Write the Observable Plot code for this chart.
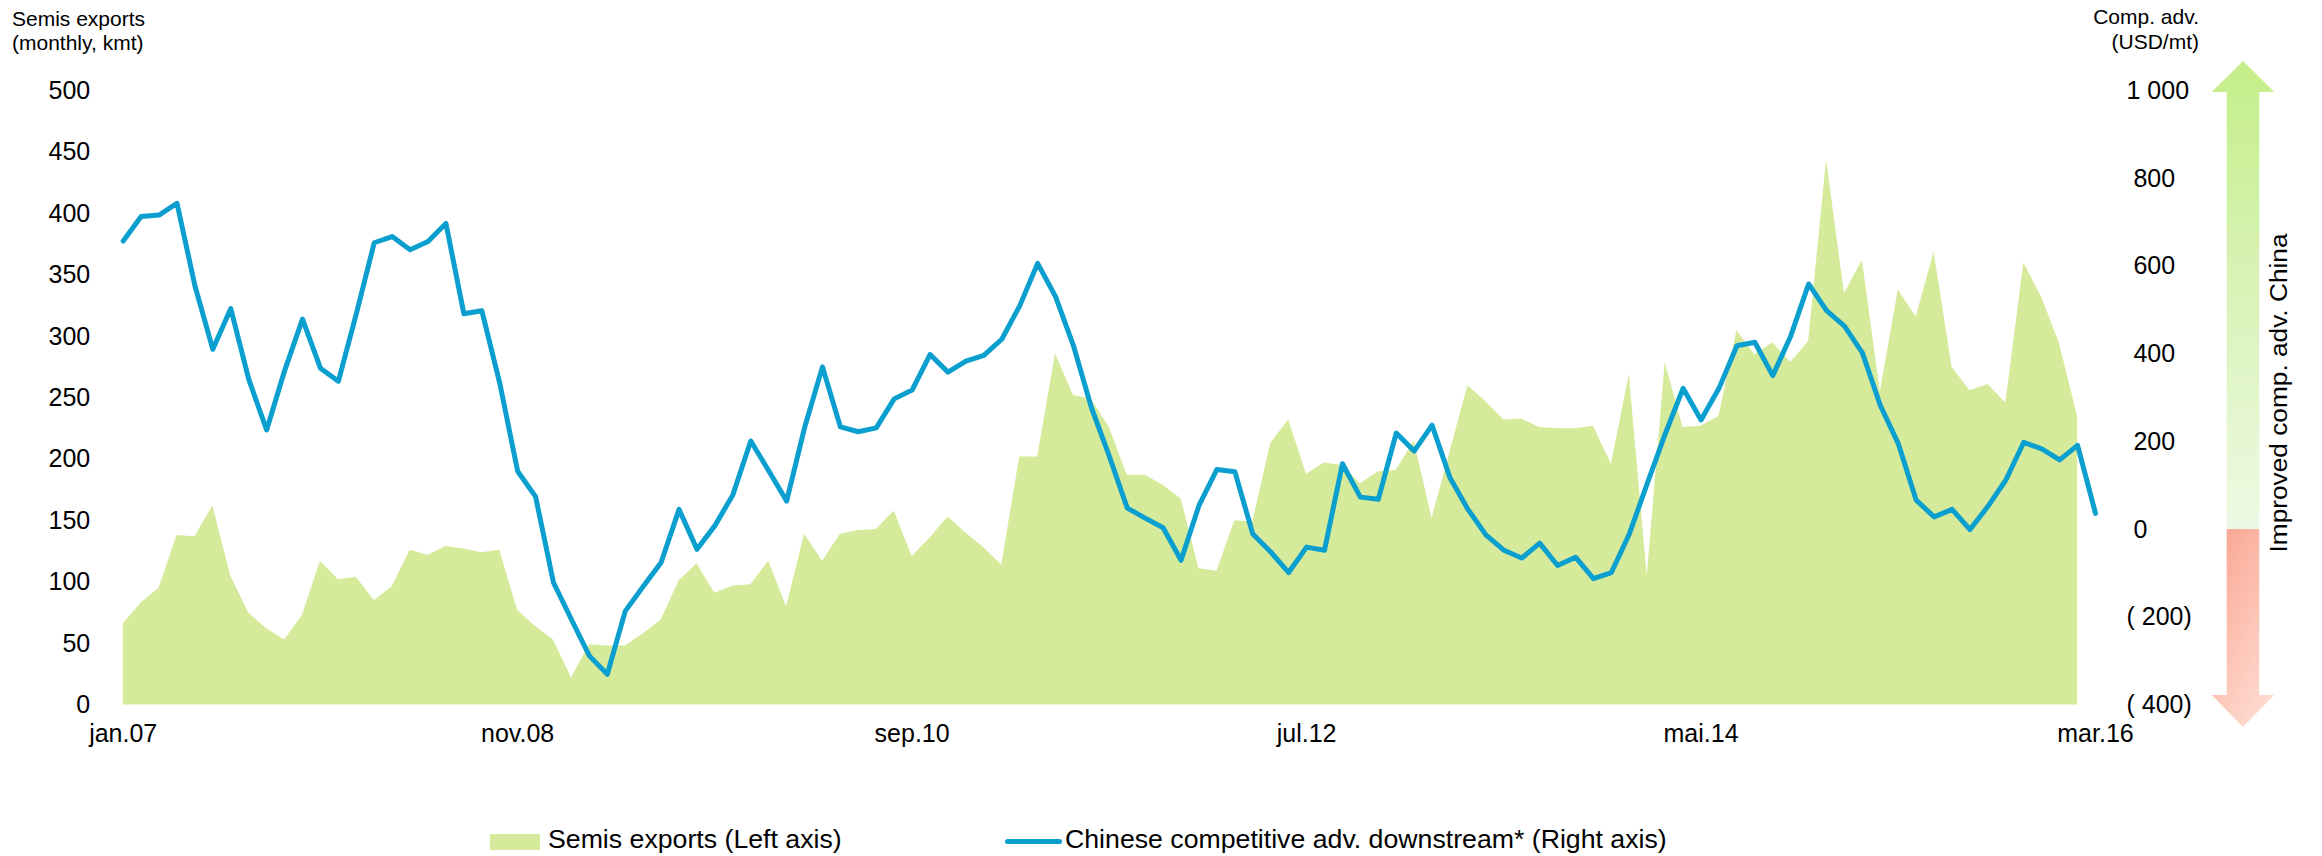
<!DOCTYPE html>
<html>
<head>
<meta charset="utf-8">
<script src="https://cdn.jsdelivr.net/npm/d3@7"></script>
<script src="https://cdn.jsdelivr.net/npm/@observablehq/plot@0.6"></script>
<style>
  body { margin: 0; background: #fff; font-family: "Liberation Sans", Arial, sans-serif; }
  #wrap { position: relative; width: 2322px; height: 856px; overflow: hidden; background: #fff; }
  .t { position: absolute; white-space: nowrap; color: #000; }
  #chart { position: absolute; left: 0; top: 60px; }
</style>
</head>
<body>
<div id="wrap">
  <div class="t" style="left:12px; top:7px; font-size:21px; line-height:24px;">Semis exports<br>(monthly, kmt)</div>
  <div class="t" style="right:123px; top:4px; font-size:21px; line-height:25px; text-align:right;">Comp. adv.<br>(USD/mt)</div>
  <div id="chart"></div>
  <div style="position:absolute; left:490px; top:834px; width:50px; height:16px; background:#d6ea9b;"></div>
  <div class="t" style="left:548px; top:824px; font-size:26.7px; line-height:30px;">Semis exports (Left axis)</div>
  <div style="position:absolute; left:1005px; top:839px; width:57px; height:5px; border-radius:3px; background:#0a9fcf;"></div>
  <div class="t" style="left:1065px; top:824px; font-size:26.7px; line-height:30px;">Chinese competitive adv. downstream* (Right axis)</div>
</div>
<script>
// Monthly semis exports, kmt (jan.07 .. feb.16) — left axis
const semisExports = [
  66, 83, 95, 138, 137, 162, 105, 75, 62, 53,
  73, 117, 102, 104, 85, 96, 126, 122, 129, 127,
  124, 126, 77, 64, 53, 22, 49, 48, 48, 58,
  69, 101, 115, 91, 97, 98, 117, 80, 139, 117,
  139, 142, 143, 158, 121, 136, 153, 140, 128, 114,
  202, 202, 286, 252, 249, 226, 187, 187, 179, 168,
  111, 109, 150, 149, 213, 232, 188, 197, 195, 180,
  190, 191, 215, 152, 206, 260, 247, 232, 233, 226,
  225, 225, 227, 196, 269, 105, 279, 226, 227, 235,
  305, 285, 295, 279, 296, 444, 335, 362, 255, 338,
  316, 369, 275, 256, 261, 246, 360, 332, 294, 235
];
// Chinese competitive advantage downstream, USD/mt (jan.07 .. mar.16) — right axis
const compAdv = [
  658, 714, 717, 744, 556, 411, 504, 343, 227, 362,
  480, 368, 338, 492, 654, 668, 638, 657, 698, 492,
  499, 334, 133, 75, -121, -205, -288, -330, -186, -130,
  -75, 46, -45, 9, 79, 202, 134, 65, 232, 371,
  234, 223, 232, 298, 318, 399, 359, 384, 397, 434,
  510, 607, 531, 419, 278, 167, 49, 26, 4, -70,
  55, 137, 132, -10, -51, -98, -40, -47, 150, 74,
  69, 220, 179, 238, 118, 46, -12, -47, -65, -31,
  -82, -63, -112, -98, -10, 105, 218, 322, 250, 322,
  419, 427, 351, 441, 560, 499, 464, 403, 283, 196,
  67, 29, 46, 0, 53, 113, 199, 184, 159, 192,
  37
];
const xTickIndex = [0, 22, 44, 66, 88, 110];
const xTickLabels = ["jan.07", "nov.08", "sep.10", "jul.12", "mai.14", "mar.16"];
const leftTicks = [0, 50, 100, 150, 200, 250, 300, 350, 400, 450, 500];
const rightTicks = [-400, -200, 0, 200, 400, 600, 800, 1000];
const rightTickLabels = ["(\u00a0400)", "(\u00a0200)", "\u00a00", "\u00a0200", "\u00a0400", "\u00a0600", "\u00a0800", "1\u00a0000"];
const leftDomain = [0, 500];
const rightDomain = [-400, 1000];

// map right-axis values onto the left-axis scale
const toLeft = r => leftDomain[0] + (r - rightDomain[0]) * (leftDomain[1] - leftDomain[0]) / (rightDomain[1] - rightDomain[0]);
const fromLeft = v => rightDomain[0] + (v - leftDomain[0]) * (rightDomain[1] - rightDomain[0]) / (leftDomain[1] - leftDomain[0]);

const chart = Plot.plot({
  width: 2322,
  height: 740,
  marginLeft: 122.7,
  marginRight: 227,
  marginTop: 30.5,
  marginBottom: 95.5,
  style: { fontFamily: "Liberation Sans, Arial, sans-serif", fontSize: "25px", color: "#000", background: "#fff", overflow: "visible" },
  x: { domain: [0, 110] },
  y: { domain: leftDomain },
  marks: [
    Plot.areaY(semisExports, { x: (d, i) => i, y: d => d, fill: "#d6ea9b" }),
    Plot.lineY(compAdv, { x: (d, i) => i, y: d => toLeft(d), stroke: "#0a9fcf", strokeWidth: 5, strokeLinejoin: "round", strokeLinecap: "round" }),
    Plot.axisY(leftTicks, { anchor: "left", tickSize: 0, tickPadding: 33, label: null }),
    Plot.axisY(rightTicks.map(toLeft), {
      anchor: "right", tickSize: 0, tickPadding: 31, textAnchor: "start", label: null,
      tickFormat: v => rightTickLabels[rightTicks.indexOf(Math.round(fromLeft(v)))]
    }),
    Plot.axisX(xTickIndex, {
      anchor: "bottom", tickSize: 0, tickPadding: 19.5, label: null,
      tickFormat: v => xTickLabels[xTickIndex.indexOf(v)]
    })
  ]
});
document.getElementById("chart").appendChild(chart);

// decorative arrow on the right, positioned through the y scale
const ys = chart.scale("y");
const yR = r => ys.apply(toLeft(r));
const svg = d3.select(chart);
const defs = svg.append("defs");
const gG = defs.append("linearGradient").attr("id", "gGreen").attr("x1", 0).attr("y1", 0).attr("x2", 0).attr("y2", 1);
gG.append("stop").attr("offset", 0).attr("stop-color", "#c4ee88");
gG.append("stop").attr("offset", 0.5).attr("stop-color", "#d9f3b9");
gG.append("stop").attr("offset", 1).attr("stop-color", "#eef9e4");
const gR = defs.append("linearGradient").attr("id", "gRed").attr("x1", 0).attr("y1", 0).attr("x2", 0.6).attr("y2", 1);
gR.append("stop").attr("offset", 0).attr("stop-color", "#f9a28e");
gR.append("stop").attr("offset", 1).attr("stop-color", "#fed9ce");

const sx0 = 2226.7, sx1 = 2259.3, hx0 = 2211.7, hx1 = 2274.3, cx = 2243;
const yTop = yR(1000), y0 = yR(0), yBot = yR(-400);
const topBase = yTop + 1.5, topTip = yTop - 29.5;
const botBase = yBot - 9.5, botTip = yBot + 22.5;
svg.append("path")
  .attr("d", `M${cx},${topTip}L${hx1},${topBase}L${sx1},${topBase}L${sx1},${y0}L${sx0},${y0}L${sx0},${topBase}L${hx0},${topBase}Z`)
  .attr("fill", "url(#gGreen)");
svg.append("path")
  .attr("d", `M${sx0},${y0}L${sx1},${y0}L${sx1},${botBase}L${hx1},${botBase}L${cx},${botTip}L${hx0},${botBase}L${sx0},${botBase}Z`)
  .attr("fill", "url(#gRed)");
svg.append("text")
  .attr("transform", `translate(2287,333) rotate(-90)`)
  .attr("text-anchor", "middle")
  .attr("font-size", 23)
  .attr("textLength", 319)
  .attr("lengthAdjust", "spacingAndGlyphs")
  .attr("fill", "#000")
  .text("Improved comp. adv. China");
</script>
</body>
</html>
